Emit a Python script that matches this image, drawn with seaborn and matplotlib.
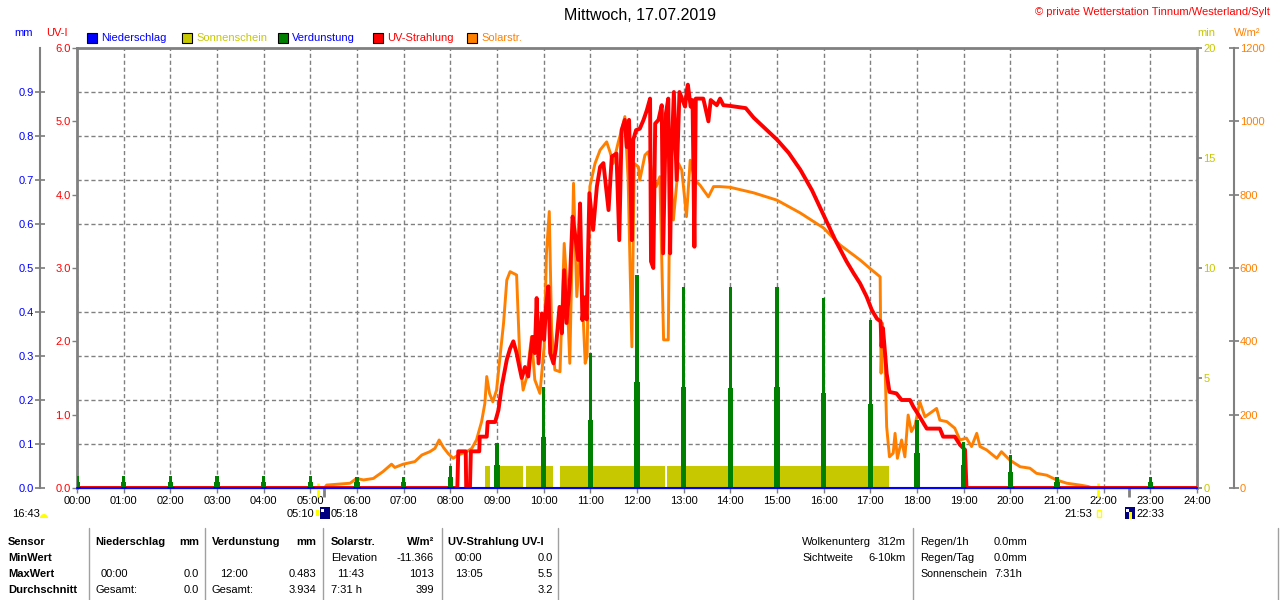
import numpy as np
import matplotlib
matplotlib.use("Agg")
from matplotlib import pyplot as plt
from matplotlib.patches import Rectangle, Wedge
from matplotlib.lines import Line2D
from matplotlib.transforms import IdentityTransform
import seaborn as sns

sns.set_theme(style="white")
plt.rcParams['font.family'] = ['Liberation Sans', 'DejaVu Sans']
plt.rcParams['font.size'] = 8

#### data (Mittwoch, 17.07.2019)

# UV-Strahlung, UV-I
uv_hours = [
    0, 8.15, 8.17, 8.33, 8.34, 8.42, 8.44, 8.62, 8.63, 8.78,
    8.80, 8.96, 9.03, 9.10, 9.21, 9.28, 9.35, 9.42, 9.48, 9.53,
    9.60, 9.67, 9.71, 9.76, 9.81, 9.85, 9.89, 9.96, 10.01, 10.05,
    10.10, 10.14, 10.21, 10.26, 10.34, 10.39, 10.44, 10.49, 10.56, 10.62,
    10.67, 10.74, 10.78, 10.83, 10.88, 10.92, 10.98, 11.06, 11.14, 11.21,
    11.28, 11.39, 11.46, 11.56, 11.62, 11.67, 11.74, 11.78, 11.83, 11.89,
    11.92, 11.98, 12.06, 12.14, 12.21, 12.28, 12.30, 12.35, 12.39, 12.46,
    12.53, 12.56, 12.62, 12.67, 12.71, 12.74, 12.79, 12.85, 12.91, 13.03,
    13.07, 13.09, 13.15, 13.19, 13.23, 13.26, 13.42, 13.46, 13.53, 13.58,
    13.71, 13.78, 13.85, 14.00, 14.33, 14.50, 14.75, 15.00, 15.25, 15.50,
    15.75, 16.00, 16.25, 16.49, 16.64, 16.78, 16.92, 17.03, 17.14, 17.22,
    17.24, 17.27, 17.31, 17.35, 17.41, 17.56, 17.67, 17.85, 17.92, 18.03,
    18.21, 18.49, 18.56, 18.81, 18.92, 19.03, 19.06, 24]
uv_index = [
    0, 0, 0.5, 0.5, 0, 0, 0.5, 0.5, 0.7, 0.7,
    0.9, 0.9, 1.06, 1.38, 1.75, 1.9, 2.0, 1.84, 1.65, 1.5,
    1.65, 1.52, 1.79, 2.06, 1.84, 2.59, 1.7, 2.38, 2.02, 2.47,
    2.75, 1.84, 1.7, 1.9, 2.47, 2.11, 2.97, 2.25, 2.79, 3.7,
    3.47, 3.11, 3.88, 2.29, 2.6, 2.3, 4.02, 3.52, 4.11, 4.38,
    4.43, 3.79, 4.52, 4.56, 3.38, 4.88, 5.02, 4.65, 5.02, 3.38,
    4.75, 4.88, 4.9, 5.02, 5.15, 5.31, 3.09, 3.0, 4.97, 5.02,
    5.22, 3.2, 5.11, 5.31, 3.2, 4.52, 5.4, 4.2, 5.4, 5.2,
    5.43, 5.5, 5.2, 5.29, 3.29, 5.31, 5.31, 5.2, 5.0, 5.29,
    5.22, 5.31, 5.22, 5.21, 5.18, 5.05, 4.9, 4.75, 4.57, 4.34,
    4.06, 3.72, 3.38, 3.09, 2.93, 2.79, 2.61, 2.43, 2.31, 2.27,
    1.93, 2.18, 1.88, 1.56, 1.31, 1.29, 1.2, 1.2, 1.11, 1.0,
    0.81, 0.81, 0.7, 0.7, 0.59, 0.52, 0, 0]

# Solarstrahlung, W/m2
sol_hours = [
    0, 5.30, 5.35, 5.85, 5.99, 6.14, 6.35, 6.56, 6.74, 6.81,
    6.99, 7.24, 7.39, 7.56, 7.67, 7.76, 7.85, 7.96, 8.06, 8.17,
    8.35, 8.46, 8.56, 8.67, 8.74, 8.78, 8.84, 8.91, 8.99, 9.14,
    9.21, 9.28, 9.42, 9.46, 9.49, 9.56, 9.64, 9.74, 9.81, 9.92,
    10.01, 10.06, 10.12, 10.17, 10.24, 10.35, 10.44, 10.49, 10.56, 10.64,
    10.71, 10.78, 10.89, 10.93, 10.99, 11.10, 11.21, 11.35, 11.42, 11.49,
    11.60, 11.67, 11.74, 11.81, 11.89, 11.94, 12.03, 12.06, 12.17, 12.24,
    12.31, 12.41, 12.49, 12.57, 12.67, 12.71, 12.78, 12.89, 12.96, 13.06,
    13.14, 13.24, 13.35, 13.53, 13.64, 13.78, 14.00, 14.50, 15.00, 15.50,
    16.00, 16.35, 16.78, 16.99, 17.21, 17.23, 17.26, 17.31, 17.35, 17.41,
    17.49, 17.53, 17.58, 17.67, 17.74, 17.81, 17.88, 17.96, 18.06, 18.17,
    18.28, 18.42, 18.49, 18.64, 18.81, 18.92, 19.06, 19.17, 19.28, 19.35,
    19.49, 19.71, 19.81, 19.99, 20.21, 20.42, 20.56, 20.78, 20.99, 21.21,
    21.49, 21.67, 21.75, 24]
sol_wm2 = [
    0, 0, 8, 13, 26, 22, 26, 45, 65, 56,
    65, 72, 90, 99, 108, 131, 111, 93, 81, 90,
    99, 108, 131, 181, 231, 304, 258, 235, 267, 449,
    567, 590, 581, 449, 349, 267, 304, 413, 295, 258,
    385, 640, 754, 431, 322, 317, 667, 567, 340, 831,
    522, 658, 340, 360, 822, 885, 922, 944, 917, 885,
    944, 976, 1013, 840, 385, 885, 876, 840, 908, 917,
    867, 822, 849, 404, 404, 899, 731, 885, 867, 740,
    894, 840, 826, 794, 822, 822, 820, 805, 785, 750,
    709, 663, 622, 599, 576, 313, 449, 358, 167, 85,
    95, 149, 81, 131, 85, 199, 154, 172, 235, 194,
    204, 217, 185, 181, 163, 131, 136, 113, 149, 113,
    104, 81, 99, 76, 58, 54, 40, 35, 22, 13,
    8, 4, 0, 0]

# Verdunstung, mm (hourly value + smaller part value)
evap_hours = [0, 1, 2, 3, 4, 5, 6, 7, 8, 9, 10, 11,
              12, 13, 14, 15, 16, 17, 18, 19, 20, 21, 23]
evap_main = [0.027, 0.027, 0.027, 0.027, 0.027, 0.027, 0.026, 0.026, 0.050, 0.102, 0.230, 0.307,
             0.483, 0.457, 0.457, 0.457, 0.431, 0.382, 0.155, 0.105, 0.075, 0.026, 0.026]
evap_part = [0.014, 0.014, 0.014, 0.014, 0.014, 0.014, 0.013, 0.013, 0.025, 0.052, 0.116, 0.155,
             0.242, 0.230, 0.227, 0.230, 0.216, 0.192, 0.079, 0.052, 0.037, 0.013, 0.013]

# Sonnenschein, min per minute
sun_start = [8.74, 8.96, 9.62, 10.35, 12.65]
sun_end = [8.85, 9.56, 10.19, 12.60, 17.40]
sun_minutes = [1, 1, 1, 1, 1]

# Niederschlag, mm
precip_hours = [0, 24]
precip_mm = [0, 0]

# axis ticks
hour_ticks = list(range(0, 25))
uv_ticks = [0, 1, 2, 3, 4, 5, 6]
mm_ticks = [0, 0.1, 0.2, 0.3, 0.4, 0.5, 0.6, 0.7, 0.8, 0.9]
min_ticks = [0, 5, 10, 15, 20]
wm2_ticks = [0, 200, 400, 600, 800, 1000, 1200]

# sun / moon times
sun_times = [5 + 10 / 60, 21 + 53 / 60]
moon_times = [5 + 18 / 60, 22 + 33 / 60]

legend_labels = ["Niederschlag", "Sonnenschein", "Verdunstung", "UV-Strahlung", "Solarstr."]

BLUE = '#0000FF'
OLIVE = '#C8C800'
GREEN = '#008000'
RED = '#FF0000'
ORANGE = '#FF8000'
GRAY = '#808080'
NAVY = '#000080'

legend_colors = [BLUE, OLIVE, GREEN, RED, ORANGE]
legend_text_colors = [BLUE, OLIVE, BLUE, RED, ORANGE]

W, H = 1280, 600


def put(x, y, s, color='black', ha='left', weight='normal', size=8):
    fig.text(x / W, 1 - y / H, s, color=color, ha=ha, va='center',
             fontsize=size, fontweight=weight)


def frect(x, y, w, h, **kw):
    fig.add_artist(Rectangle((x / W, 1 - (y + h) / H), w / W, h / H,
                             transform=fig.transFigure, **kw))


fig = plt.figure(figsize=(12.8, 6.0), dpi=100)
fig.patch.set_facecolor('white')

# base axes: UV scale, grid and frame
ax = fig.add_axes([77 / W, 1 - 488 / H, 1120 / W, 440 / H])
ax.set_xlim(0, 24)
ax.set_ylim(0, 6)
ax.set_xticks(hour_ticks)
ax.set_xticklabels([f"{h:02d}:00" for h in hour_ticks])
ax.set_yticks(uv_ticks)
ax.set_yticklabels([f"{v:.1f}" for v in uv_ticks])
# horizontal grid follows the mm scale (0.1 mm = 0.6 UV)
ax.set_yticks(np.arange(1, 10) * 0.6, minor=True)
ax.tick_params(axis='y', which='minor', length=0, left=False)
ax.tick_params(axis='y', which='major', direction='out', length=3.6, width=1,
               color=GRAY, labelcolor=RED, pad=1, left=True, labelsize=8)
ax.tick_params(axis='x', direction='out', length=3.6, width=1, color=GRAY,
               labelcolor='black', pad=2.5, bottom=True, labelsize=8)
ax.grid(True, axis='x', which='major', color=GRAY, linestyle=(0, (3, 2)), linewidth=1)
ax.grid(True, axis='y', which='minor', color=GRAY, linestyle=(0, (3, 2)), linewidth=1)
for s in ['left', 'top', 'right']:
    ax.spines[s].set_color(GRAY)
    ax.spines[s].set_linewidth(2)
ax.spines['bottom'].set_color(GRAY)
ax.spines['bottom'].set_linewidth(1)

# Sonnenschein
ax_min = ax.twinx()
ax_min.bar(sun_start, sun_minutes, width=np.array(sun_end) - np.array(sun_start),
           align='edge', color=OLIVE, linewidth=0)
ax_min.set_ylim(0, 20)
ax_min.set_yticks(min_ticks)
ax_min.set_yticklabels([str(v) for v in min_ticks])
ax_min.tick_params(axis='y', right=True, left=False, direction='out', length=3.6,
                   color=GRAY, labelcolor=OLIVE, pad=1, labelsize=8)
for s in ax_min.spines.values():
    s.set_visible(False)

# Solarstrahlung
ax_sol = ax.twinx()
sns.lineplot(x=sol_hours, y=sol_wm2, ax=ax_sol, color=ORANGE, linewidth=2.1,
             estimator=None, sort=False)
ax_sol.set_ylim(0, 1200)
ax_sol.set_yticks(wm2_ticks)
ax_sol.set_yticklabels([str(v) for v in wm2_ticks])
ax_sol.tick_params(axis='y', right=True, left=False, direction='inout', length=6.5,
                   color=GRAY, labelcolor=ORANGE, pad=1, labelsize=8)
for s in ['left', 'top', 'bottom']:
    ax_sol.spines[s].set_visible(False)
ax_sol.spines['right'].set_position(('outward', 26.6))
ax_sol.spines['right'].set_color(GRAY)
ax_sol.spines['right'].set_linewidth(1.5)
ax_sol.set_ylabel('')

# UV-Strahlung
ax_red = ax.twinx()
sns.lineplot(x=uv_hours, y=uv_index, ax=ax_red, color=RED, linewidth=2.8,
             estimator=None, sort=False)
ax_red.set_ylim(0, 6)
ax_red.set_yticks([])
ax_red.set_ylabel('')
for s in ax_red.spines.values():
    s.set_visible(False)

# Verdunstung + Niederschlag (mm)
ax_mm = ax.twinx()
ax_mm.bar(evap_hours, evap_part, width=0.11, color=GREEN, linewidth=0)
ax_mm.bar(evap_hours, evap_main, width=0.065, color=GREEN, linewidth=0)
sns.lineplot(x=precip_hours, y=precip_mm, ax=ax_mm, color=BLUE, linewidth=1.5,
             clip_on=False)
ax_mm.set_ylim(0, 1)
ax_mm.yaxis.tick_left()
ax_mm.set_yticks(mm_ticks)
ax_mm.set_yticklabels([f"{v:.1f}" for v in mm_ticks])
ax_mm.tick_params(axis='y', left=True, right=False, direction='inout', length=6.5,
                  color=GRAY, labelcolor=BLUE, pad=1, labelsize=8)
for s in ['right', 'top', 'bottom']:
    ax_mm.spines[s].set_visible(False)
ax_mm.spines['left'].set_visible(True)
ax_mm.spines['left'].set_position(('outward', 26.6))
ax_mm.spines['left'].set_color(GRAY)
ax_mm.spines['left'].set_linewidth(1.5)
ax_mm.set_ylabel('')

ax.set_xlim(0, 24)

# sun / moon markers below the time axis
ax.vlines(sun_times, -9 / 440, 5 / 440, transform=ax.get_xaxis_transform(),
          colors='#FFFF00', linewidth=2, clip_on=False, zorder=5)
ax.vlines(moon_times, -9 / 440, 0, transform=ax.get_xaxis_transform(),
          colors=GRAY, linewidth=2, clip_on=False, zorder=5)

# title and headers
put(640, 15, "Mittwoch, 17.07.2019", size=11.5, ha='center')
put(1270, 12, "© private Wetterstation Tinnum/Westerland/Sylt", color=RED, ha='right')
put(14, 33, "mm", color=BLUE)
put(46, 33, "UV-I", color=RED)
put(1197, 33, "min", color=OLIVE)
put(1234, 33, "W/m²", color=ORANGE)

legend_x = [87, 182, 277.5, 373, 467]
for lx, lab, c, tc in zip(legend_x, legend_labels, legend_colors, legend_text_colors):
    frect(lx, 33, 10, 10, facecolor=c, edgecolor='black', linewidth=0.8)
    put(lx + 14.5, 38, lab, color=tc)

# sunrise / moon row
put(12, 514, "16:43")
fig.add_artist(Wedge((44, H - 518), 4, 0, 180, transform=IdentityTransform(),
                     facecolor='#FFFF00', edgecolor='none'))
put(314, 514, "05:10", ha='right')
frect(320, 507, 10, 12, facecolor=NAVY, edgecolor='none')
frect(321, 509, 3, 3, facecolor='white', edgecolor='none')
frect(316, 510, 3, 6, facecolor='#FFFF00', edgecolor='none')
put(331, 514, "05:18")
put(1092, 514, "21:53", ha='right')
frect(1097, 510, 4, 7, facecolor='none', edgecolor='#FFFF00', linewidth=1)
frect(1125, 507, 10, 12, facecolor=NAVY, edgecolor='none')
frect(1126, 509, 3, 3, facecolor='white', edgecolor='none')
frect(1129, 512, 3, 7, facecolor='#FFFF00', edgecolor='none')
put(1136, 514, "22:33")

# statistics table
for sx in [89, 205, 323, 442, 558, 913, 1278]:
    fig.add_artist(Line2D([sx / W, sx / W], [1 - 528 / H, 0], color='#A0A0A0',
                          linewidth=1, transform=fig.transFigure))

rows = [542, 558, 574, 590]
for label, y in zip(["Sensor", "MinWert", "MaxWert", "Durchschnitt"], rows):
    put(8, y, label, weight='bold')

put(95, rows[0], "Niederschlag", weight='bold')
put(199, rows[0], "mm", weight='bold', ha='right')
put(101, rows[2], "00:00")
put(199, rows[2], "0.0", ha='right')
put(95, rows[3], "Gesamt:")
put(199, rows[3], "0.0", ha='right')

put(212, rows[0], "Verdunstung", weight='bold')
put(316, rows[0], "mm", weight='bold', ha='right')
put(220, rows[2], "12:00")
put(316, rows[2], "0.483", ha='right')
put(212, rows[3], "Gesamt:")
put(316, rows[3], "3.934", ha='right')

put(331, rows[0], "Solarstr.", weight='bold')
put(434, rows[0], "W/m²", weight='bold', ha='right')
put(331, rows[1], "Elevation")
put(434, rows[1], "-11.366", ha='right')
put(337, rows[2], "11:43")
put(434, rows[2], "1013", ha='right')
put(331, rows[3], "7:31 h")
put(434, rows[3], "399", ha='right')

put(448, rows[0], "UV-Strahlung UV-I", weight='bold')
put(455, rows[1], "00:00")
put(553, rows[1], "0.0", ha='right')
put(455, rows[2], "13:05")
put(553, rows[2], "5.5", ha='right')
put(553, rows[3], "3.2", ha='right')

put(802, rows[0], "Wolkenunterg")
put(906, rows[0], "312m", ha='right')
put(802, rows[1], "Sichtweite")
put(906, rows[1], "6-10km", ha='right')
put(920, rows[0], "Regen/1h")
put(994, rows[0], "0.0mm")
put(920, rows[1], "Regen/Tag")
put(994, rows[1], "0.0mm")
put(920, rows[2], "Sonnenschein", size=7.6)
put(994, rows[2], "7:31h")

fig.savefig("out.png", dpi=100, facecolor='white')
